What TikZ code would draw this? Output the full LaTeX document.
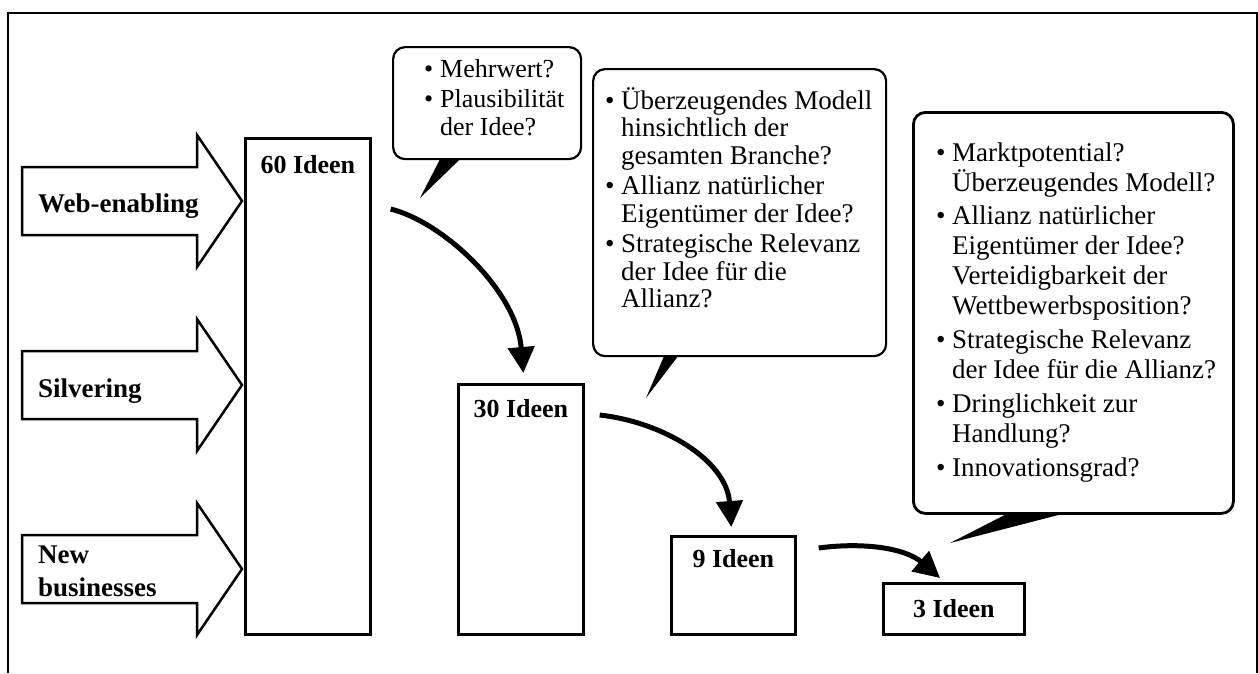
\documentclass[tikz,border=0pt]{standalone}
\usepackage{fontspec}
\setmainfont{Liberation Serif}
\usetikzlibrary{arrows.meta,calc}
\newcommand{\bl}{\makebox[16pt][l]{\textbullet}}
\newcommand{\ind}{\hspace*{16pt}}
\newcommand{\fs}{\rule{0pt}{26pt}}
\begin{document}
\begin{tikzpicture}[x=1pt,y=-1pt,
  box/.style={draw,line width=2.7pt,rectangle,inner sep=0pt,anchor=north west},
  lbl/.style={font=\fontsize{26}{28}\selectfont\bfseries,inner sep=0pt,anchor=base},
  blklbl/.style={font=\fontsize{27}{29}\selectfont\bfseries,inner sep=0pt,anchor=base west},
  blk/.style={draw,line width=2.5pt,fill=white,line join=miter},
  bubble/.style={draw,line width=2.2pt,rounded corners=12pt,rectangle,inner sep=0pt,anchor=north west},
  btxt/.style={inner sep=0pt,anchor=north west,align=left},
  flow/.style={line width=5pt,-{Triangle[length=26pt,width=26pt]}},
  tail/.style={fill=black}
]
\useasboundingbox (0,0) rectangle (1258,673);
% frame
\draw[line width=2pt] (8,673) -- (8,13) -- (1257,13) -- (1257,673);

% block arrows
\draw[blk] (22,167) -- (197,167) -- (197,135) -- (242,201) -- (197,267) -- (197,235) -- (22,235) -- cycle;
\draw[blk] (22,351) -- (197,351) -- (197,319) -- (242,385) -- (197,451) -- (197,419) -- (22,419) -- cycle;
\draw[blk] (22,535) -- (197,535) -- (197,503) -- (242,569) -- (197,635) -- (197,603) -- (22,603) -- cycle;
\node[blklbl] (web) at (38,212) {Web-enabling};
\node[blklbl] (sil) at (38,397) {Silvering};
\node[blklbl] (new) at (38,563) {New};
\node[blklbl] (bus) at (38,596) {businesses};

% idea boxes
\node[box,minimum width=125pt,minimum height=496pt] (b60) at (244,137) {};
\node[box,minimum width=125pt,minimum height=250pt] (b30) at (457,383) {};
\node[box,minimum width=124pt,minimum height=98pt] (b9) at (670,535) {};
\node[box,minimum width=141pt,minimum height=51pt] (b3) at (882,582) {};
\node[lbl] (t60) at ($(b60.north)+(0,36)$) {60 Ideen};
\node[lbl] (t30) at ($(b30.north)+(0,34)$) {30 Ideen};
\node[lbl] (t9) at ($(b9.north)+(0,32)$) {9 Ideen};
\node[lbl] (t3) at ($(b3.north)+(0,35)$) {3 Ideen};

% bubbles
\node[bubble,minimum width=188pt,minimum height=112pt] (q1) at (392,46) {};
\node[bubble,minimum width=293pt,minimum height=287pt] (q2) at (592,68) {};
\node[bubble,line width=2.8pt,minimum width=320pt,minimum height=401pt] (q3) at (912,111) {};
\coordinate (p1) at (420,198);
\coordinate (p2) at (646,398);
\coordinate (p3) at (950,543);
\fill[tail] ($(q1.south west)+(48,-1)$) -- ($(q1.south west)+(68,-1)$) -- (p1) -- cycle;
\fill[tail] ($(q2.south west)+(72,-1)$) -- ($(q2.south west)+(86,-1)$) -- (p2) -- cycle;
\fill[tail] ($(q3.south west)+(95,-1)$) -- ($(q3.south west)+(151,-1)$) -- (p3) -- cycle;

\node[btxt,font=\fontsize{26}{28}\selectfont] (x1) at (424,51)
 {\fs\bl Mehrwert?\\[2pt]
  \bl Plausibilität\\
  \ind der Idee?};
\node[btxt,font=\fontsize{27}{27.5}\selectfont] (x2) at (605,83)
 {\fs\bl Überzeugendes Modell\\
  \ind hinsichtlich der\\
  \ind gesamten Branche?\\[3pt]
  \bl Allianz natürlicher\\
  \ind Eigentümer der Idee?\\[3pt]
  \bl Strategische Relevanz\\
  \ind der Idee für die\\
  \ind Allianz?};
\node[btxt,font=\fontsize{27}{30}\selectfont] (x3) at (936,135)
 {\fs\bl Marktpotential?\\
  \ind Überzeugendes Modell?\\[3.75pt]
  \bl Allianz natürlicher\\
  \ind Eigentümer der Idee?\\
  \ind Verteidigbarkeit der\\
  \ind Wettbewerbsposition?\\[3.75pt]
  \bl Strategische Relevanz\\
  \ind der Idee für die Allianz?\\[3.75pt]
  \bl Dringlichkeit zur\\
  \ind Handlung?\\[3.75pt]
  \bl Innovationsgrad?};

% flow arrows
\coordinate (s1) at ($(b60.north east)+(19,72)$);
\coordinate (e1) at ($(b30.north)+(2.5,-10)$);
\coordinate (s2) at ($(b30.north east)+(15,32)$);
\coordinate (e2) at ($(b9.north)+(-2,-8)$);
\coordinate (s3) at ($(b9.north east)+(22,13)$);
\coordinate (e3) at ($(b3.north west)+(58,-4)$);
\draw[flow] (s1) .. controls +(52,13) and +(-7,-83) .. (e1);
\draw[flow] (s2) .. controls +(63,7) and +(-5,-67) .. (e2);
\draw[flow] (s3) .. controls +(44,-6) and +(-35,-30) .. (e3);
\end{tikzpicture}
\end{document}
